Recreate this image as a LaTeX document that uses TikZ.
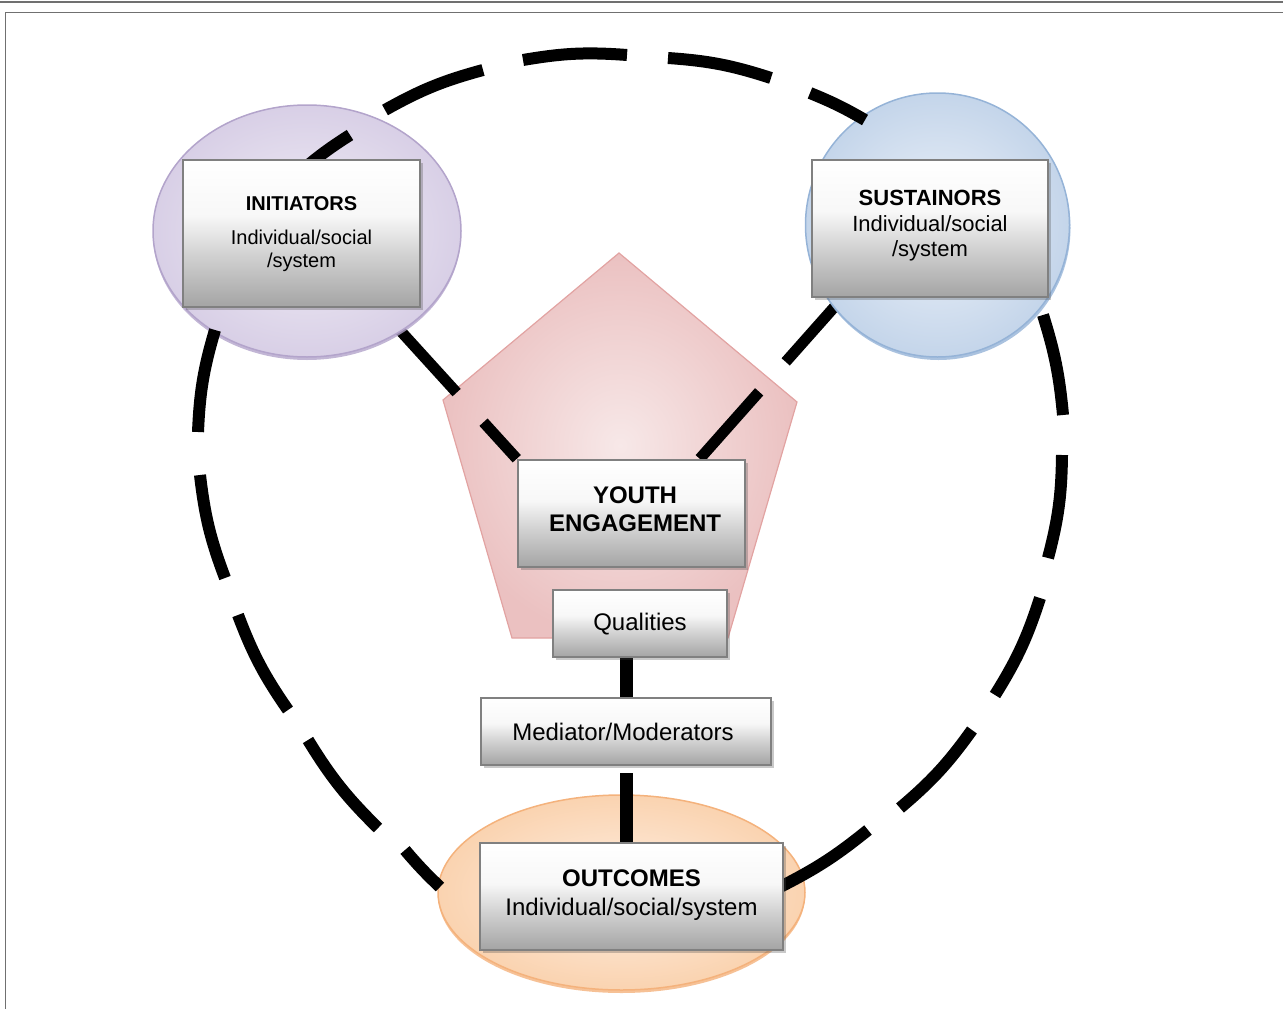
\documentclass[tikz,border=0pt]{standalone}
\usepackage{fontspec}
\setmainfont{Liberation Sans}
\usetikzlibrary{shapes.geometric,shadows,calc}

\definecolor{framegray}{HTML}{707070}
\definecolor{boxborder}{HTML}{808080}
\definecolor{boxbot}{HTML}{A4A4A4}
\definecolor{boxmid}{HTML}{D2D2D2}
\definecolor{iniIn}{HTML}{F1EEF6}
\definecolor{iniOut}{HTML}{D8CFE6}
\definecolor{iniLine}{HTML}{B3A4CB}
\definecolor{susIn}{HTML}{EDF2F9}
\definecolor{susOut}{HTML}{C4D5EA}
\definecolor{susLine}{HTML}{95B3D7}
\definecolor{outIn}{HTML}{FEEFE3}
\definecolor{outOut}{HTML}{FAD3B0}
\definecolor{outLine}{HTML}{F4B27C}
\definecolor{penIn}{HTML}{F7E8E8}
\definecolor{penOut}{HTML}{EBC1C1}
\definecolor{penLine}{HTML}{E2A3A2}

\pgfdeclareverticalshading{boxshade}{100bp}{color(0bp)=(boxbot); color(25bp)=(boxbot); color(43bp)=(boxmid); color(56bp)=(white!97!black); color(75bp)=(white); color(100bp)=(white)}

\pgfdeclarelayer{penlayer}
\pgfdeclarelayer{spokelayer}
\pgfdeclarelayer{ovallayer}
\pgfdeclarelayer{looplayer}
\pgfsetlayers{penlayer,spokelayer,ovallayer,looplayer,main}

\tikzset{
  card/.style={draw=boxborder, line width=2.5pt, shading=boxshade, inner sep=0pt,
    drop shadow={shadow xshift=3pt, shadow yshift=-3pt, opacity=0.3, fill=black!70}},
  oval/.style={ellipse, inner sep=0pt, line width=1.5pt},
  spoke/.style={line width=11pt, black, dash pattern=on 105pt off 40pt},
  loopdash/.style={line width=12pt, black},
  txt/.style={anchor=base, inner sep=0pt, text=black},
  tline/.style={line width=1.5pt, framegray}
}

\begin{document}
\begin{tikzpicture}[x=1pt,y=-1pt]
\useasboundingbox (0,0) rectangle (1283,1009);

% frame
\draw[tline, line width=2pt] (0,2) -- (1283,2);
\draw[tline] (1283,12.5) -- (5.5,12.5) -- (5.5,1009);

% boxes (main layer)
\node[card, minimum width=237pt, minimum height=147pt] (iniB) at (301.5,233.5) {};
\node[card, minimum width=236pt, minimum height=137pt] (susB) at (930,228.5) {};
\node[card, minimum width=227pt, minimum height=107pt] (youth) at (631.5,513.5) {};
\node[card, minimum width=174pt, minimum height=67pt] (qual) at (640,623.5) {};
\node[card, minimum width=290pt, minimum height=67pt] (med) at (626,731.5) {};
\node[card, minimum width=303pt, minimum height=107pt] (outB) at (631.5,896.5) {};

% texts
\node[txt, font=\fontsize{20}{23.5}\selectfont] (iniT) at (301.5,210)
  {\begin{tabular}[t]{@{}c@{}}\textbf{INITIATORS}\\[10.5pt]Individual/social\\/system\end{tabular}};
\node[txt, font=\fontsize{22}{24.5}\selectfont] (susT) at (930,205)
  {\begin{tabular}[t]{@{}c@{}}\textbf{SUSTAINORS}\\[2pt]Individual/social\\/system\end{tabular}};
\node[txt, font=\fontsize{24}{28.5}\selectfont\bfseries] (youthT) at (635,503)
  {\begin{tabular}[t]{@{}c@{}}YOUTH\\ENGAGEMENT\end{tabular}};
\node[txt, font=\fontsize{24}{28}\selectfont] (qualT) at (640,630) {Qualities};
\node[txt, font=\fontsize{24}{28}\selectfont] (medT) at (623,740) {Mediator/Moderators};
\node[txt, font=\fontsize{24}{29}\selectfont] (outT) at (631.5,886)
  {\begin{tabular}[t]{@{}c@{}}\textbf{OUTCOMES}\\Individual/social/system\end{tabular}};

% pentagon
\begin{pgfonlayer}{penlayer}
\path[draw=penLine, line width=1.2pt, inner color=penIn, outer color=penOut]
  (619,253) -- (797,402) -- (728,638) -- (512,638) -- (443,400) -- cycle;
\end{pgfonlayer}

% spokes from initiators and sustainors
\begin{pgfonlayer}{spokelayer}
\draw[spoke, dash phase=35pt] ($(iniB.center)+(10.5,0)$) -- (youth.north west);
\draw[spoke, dash phase=71.7pt] ($(susB.center)+(-26,0)$) -- ($(youth.north west)+(183,0)$);
\end{pgfonlayer}

% ovals
\begin{pgfonlayer}{ovallayer}
\node[oval, minimum width=308pt, minimum height=252pt, draw=iniLine, inner color=iniIn, outer color=iniOut,
  drop shadow={shadow xshift=0pt, shadow yshift=-3pt, fill=iniLine, opacity=0.8}] (iniE) at (307,231) {};
\node[oval, circle, minimum size=264pt, draw=susLine, inner color=susIn, outer color=susOut,
  drop shadow={shadow xshift=1pt, shadow yshift=-3pt, fill=susLine, opacity=0.8}] (susE) at (937.5,225) {};
\node[oval, minimum width=367pt, minimum height=195pt, draw=outLine, inner color=outIn, outer color=outOut,
  drop shadow={shadow xshift=0pt, shadow yshift=-3pt, fill=outLine, opacity=0.8}] (outE) at (621.5,892.5) {};
\end{pgfonlayer}

% big dashed loop and vertical spoke
\begin{pgfonlayer}{looplayer}
\draw[spoke, line width=13pt, dash phase=140.5pt] (qual.center -| med.center) -- (outB.center -| med.center);
\draw[loopdash] (385,110) to[bend left=7] (483,70);
\draw[loopdash] (523,60) to[bend left=7] (627,55);
\draw[loopdash] (668,58) to[bend left=7] (771,78);
\draw[loopdash] (810,93) to[bend left=4] (865,120);
\draw[loopdash] (1043,315) to[bend left=6] (1063,415);
\draw[loopdash] (1062,455) to[bend left=7] (1048,558);
\draw[loopdash] (1040,598) to[bend left=7] (995,695);
\draw[loopdash] (972,730) to[bend left=7] (900,808);
\draw[loopdash] (868,830) to[bend left=6] (780,887);
\draw[loopdash] (440,887) to[bend left=3] (405,850);
\draw[loopdash] (378,828) to[bend left=7] (308,740);
\draw[loopdash] (288,710) to[bend left=7] (238,615);
\draw[loopdash] (225,578) to[bend left=7] (200,475);
\draw[loopdash] (198,432) to[bend left=7] (215,330);
\draw[loopdash] (300,172) to[bend left=4] (350,135);
\end{pgfonlayer}
\end{tikzpicture}
\end{document}
